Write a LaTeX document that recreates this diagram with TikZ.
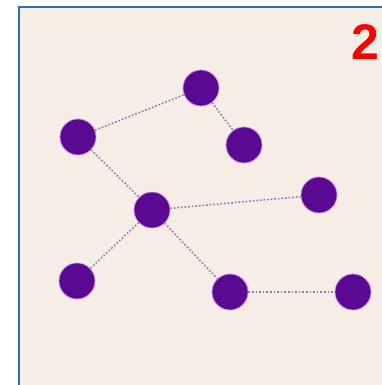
\documentclass[tikz,border=0pt]{standalone}
\usepackage{fontspec}
\setmainfont{Liberation Sans}
\definecolor{paper}{HTML}{F5EDE6}
\definecolor{frameblue}{HTML}{2F6DB5}
\definecolor{dotpurple}{HTML}{5A0A92}
\definecolor{halo}{HTML}{C98BE8}
\definecolor{linkgrey}{HTML}{8F76A6}
\begin{document}
\begin{tikzpicture}[x=1pt,y=-1pt,vert/.style={circle,fill=dotpurple,draw=halo,line width=0.7pt,
  minimum size=36pt,inner sep=0pt},link/.style={draw=linkgrey,dotted,line width=1.6pt}]
  \useasboundingbox (0,0) rectangle (382,385);
  \clip (0,0) rectangle (382,385);
  \fill[white] (0,0) rectangle (382,385);
  \draw[fill=paper,draw=frameblue,line width=2pt] (19,7) rectangle (400,400);

  \node[vert] (top) at (201,88) {};
  \node[vert] (left) at (78,137) {};
  \node[vert] (topr) at (244,145) {};
  \node[vert] (hub) at (152,210) {};
  \node[vert] (right) at (319,195) {};
  \node[vert] (low) at (77,281) {};
  \node[vert] (mid) at (230,292) {};
  \node[vert] (end) at (353,292) {};

  \draw[link] (left) -- (top);
  \draw[link] (top) -- (topr);
  \draw[link] (left) -- (hub);
  \draw[link] (hub) -- (right);
  \draw[link] (hub) -- (low);
  \draw[link] (hub) -- (mid);
  \draw[link] (mid) -- (end);

  \node[text=red,font=\fontsize{50}{50}\selectfont\bfseries] (num) at (365,42) {2};
\end{tikzpicture}
\end{document}
